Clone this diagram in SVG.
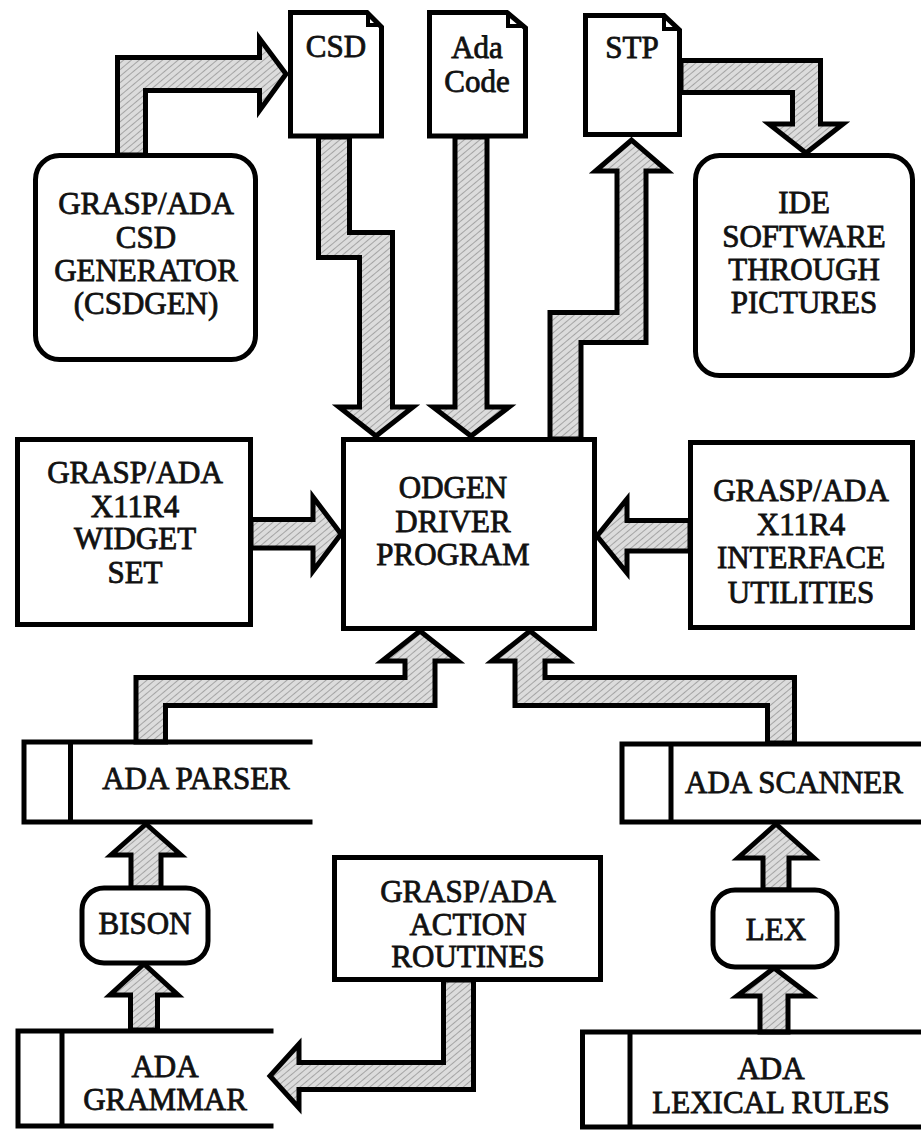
<svg xmlns="http://www.w3.org/2000/svg" width="921" height="1131" viewBox="0 0 921 1131">
<style>
.box{fill:#fff;stroke:#000;stroke-width:5;stroke-linejoin:miter}
.store{fill:none;stroke:#000;stroke-width:5;stroke-linecap:square}
.fold{fill:none;stroke:#000;stroke-width:4}
.arr{fill:url(#speckle);stroke:#000;stroke-width:5;stroke-linejoin:miter}
text{font-family:"Liberation Serif","Times New Roman",Times,serif;font-weight:normal;font-size:31px;text-anchor:middle;fill:#111;stroke:#111;stroke-width:0.8}
</style>
<defs>
<pattern id="speckle" width="5" height="5" patternUnits="userSpaceOnUse" patternTransform="rotate(50)">
<rect width="5" height="5" fill="#dcdcdc"/>
<line x1="0" y1="0" x2="0" y2="5" stroke="#8c8c8c" stroke-width="1.4"/>
</pattern>
</defs>
<rect width="921" height="1131" fill="#fff"/>

<g id="connectors">
<path class="arr" d="M117.5,155 V57.5 H259.5 V38.5 L286,74 L259.5,110.5 V90.5 H145.5 V155 Z"/>
<path class="arr" d="M318.5,137 V257.5 H359.5 V407 H339 L376,436 L413,407 H392.5 V232.5 H349.5 V137 Z"/>
<path class="arr" d="M455,137 V407 H433 L471,436 L509,407 H487 V137 Z"/>
<path class="arr" d="M550,439 V312.5 H617 V171 H595.5 L631.5,140 L667.5,171 H646 V342.5 H581 V439 Z"/>
<path class="arr" d="M681,60.5 H820.5 V124 H843 L806,153 L769,124 H792.5 V92.5 H681 Z"/>
<path class="arr" d="M251,519.5 H313 V497 L341,534 L313,571 V548 H251 Z"/>
<path class="arr" d="M690,520.5 H627 V499 L597,536 L627,573 V551 H690 Z"/>
<path class="arr" d="M136,742 V677.5 H405 V661 H382 L420,631 L458,661 H435 V705.5 H165.5 V742 Z"/>
<path class="arr" d="M794.5,743 V677.5 H545 V661 H568 L530,631 L492,661 H515 V705.5 H767.5 V743 Z"/>
<path class="arr" d="M131,888 V855 H111 L146,824 L181,855 H161 V888 Z"/>
<path class="arr" d="M130.5,1030 V995 H110 L144,964 L178,995 H157.5 V1030 Z"/>
<path class="arr" d="M763,890 V858 H738 L776,824 L814,858 H789 V890 Z"/>
<path class="arr" d="M760,1032 V996 H737 L774,968 L811,996 H788 V1032 Z"/>
<path class="arr" d="M443.5,980 V1062.5 H299 V1044 L270,1076 L299,1108 V1089.5 H473.5 V980 Z"/>
</g>

<g id="csdgen">
<rect class="box" x="35.5" y="155.5" width="220" height="204" rx="24"/>
<text x="146" y="214">GRASP/ADA</text>
<text x="146" y="248">CSD</text>
<text x="146" y="281">GENERATOR</text>
<text x="146" y="314">(CSDGEN)</text>
</g>

<g id="csd">
<path class="box" d="M290.5,136 V12.5 H367 L381.5,27 V136 Z"/>
<path class="fold" d="M368,13 V25 H381"/>
<text x="336" y="57">CSD</text>
</g>

<g id="adacode">
<path class="box" d="M429.5,136 V12.5 H507 L525.5,28 V136 Z"/>
<path class="fold" d="M508,13 V26 H525"/>
<text x="477" y="58">Ada</text>
<text x="477" y="92">Code</text>
</g>

<g id="stp">
<path class="box" d="M585.5,134.5 V15.5 H664 L679.5,30 V134.5 Z"/>
<path class="fold" d="M664,16 V29 H679"/>
<text x="632" y="58">STP</text>
</g>

<g id="ide">
<rect class="box" x="695.5" y="155.5" width="217" height="220" rx="24"/>
<text x="804" y="213">IDE</text>
<text x="804" y="247">SOFTWARE</text>
<text x="804" y="280">THROUGH</text>
<text x="804" y="313">PICTURES</text>
</g>

<g id="widget">
<rect class="box" x="17.5" y="439.5" width="233" height="185"/>
<text x="135" y="483">GRASP/ADA</text>
<text x="135" y="517">X11R4</text>
<text x="135" y="549">WIDGET</text>
<text x="135" y="583">SET</text>
</g>

<g id="odgen">
<rect class="box" x="343.5" y="439.5" width="251" height="189"/>
<text x="453" y="498">ODGEN</text>
<text x="453" y="532">DRIVER</text>
<text x="453" y="565">PROGRAM</text>
</g>

<g id="interface">
<rect class="box" x="690.5" y="442.5" width="222" height="185"/>
<text x="801" y="501">GRASP/ADA</text>
<text x="801" y="535">X11R4</text>
<text x="801" y="568">INTERFACE</text>
<text x="801" y="603">UTILITIES</text>
</g>

<g id="parser">
<path class="store" d="M310,742 H24 V822 H310 M70.5,742 V822"/>
<text x="196" y="789">ADA PARSER</text>
</g>

<g id="scanner">
<path class="store" d="M921,744 H622 V822 H921 M671,744 V822"/>
<text x="794" y="793">ADA SCANNER</text>
</g>

<g id="bison">
<rect class="box" x="82" y="888" width="126" height="75" rx="22"/>
<text x="145" y="934">BISON</text>
</g>

<g id="lex">
<rect class="box" x="713" y="890" width="124" height="77" rx="22"/>
<text x="776" y="940">LEX</text>
</g>

<g id="action">
<rect class="box" x="334.5" y="857.5" width="266" height="122"/>
<text x="468" y="902">GRASP/ADA</text>
<text x="468" y="935">ACTION</text>
<text x="468" y="967">ROUTINES</text>
</g>

<g id="grammar">
<path class="store" d="M271,1031 H18 V1126 H271 M62,1031 V1126"/>
<text x="165" y="1077">ADA</text>
<text x="165" y="1110">GRAMMAR</text>
</g>

<g id="lexical">
<path class="store" d="M921,1032 H582.5 V1127 H921 M630,1032 V1127"/>
<text x="771" y="1079">ADA</text>
<text x="771" y="1113">LEXICAL RULES</text>
</g>
</svg>
